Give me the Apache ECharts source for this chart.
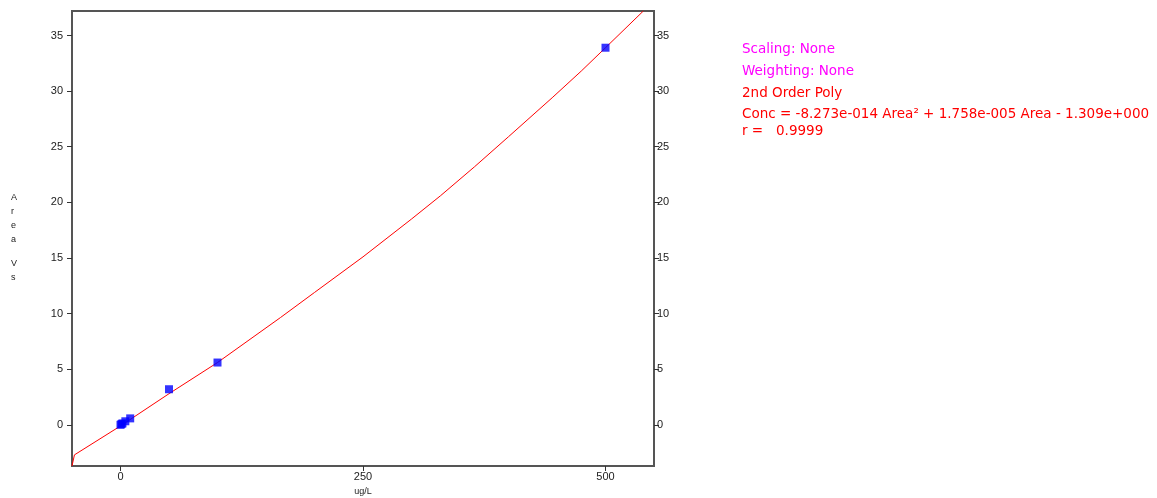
<!DOCTYPE html>
<html>
<head>
<meta charset="utf-8">
<script src="https://cdn.jsdelivr.net/npm/echarts@6/dist/echarts.min.js"></script>
<style>html,body{margin:0;padding:0;background:#fff}#c{width:1157px;height:498px}</style>
</head>
<body>
<div id="c"></div>
<script>
// Calibration points (ug/L, Area Vs)
const pointX = [0, 1, 2, 5, 10, 50, 100, 500];
const pointY = [0, 0.07, 0.13, 0.32, 0.58, 3.2, 5.6, 33.9];
// Fitted curve
const curveX = [-50, -47.5, 0, 50, 100, 165, 200, 250, 300, 330, 365, 400, 445, 475, 500, 539];
const curveY = [-3.7, -2.7, -0.1, 2.8, 5.6, 9.65, 11.9, 15.1, 18.5, 20.6, 23.2, 25.9, 29.4, 31.8, 33.9, 37.2];
const xTicks = [0, 250, 500];
const yTicks = [0, 5, 10, 15, 20, 25, 30, 35];
const infoLines = [
  {text: 'Scaling: None', color: '#FF00FF'},
  {text: 'Weighting: None', color: '#FF00FF'},
  {text: '2nd Order Poly', color: '#FF0000'},
  {text: 'Conc = -8.273e-014 Area² + 1.758e-005 Area - 1.309e+000', color: '#FF0000'},
  {text: 'r =   0.9999', color: '#FF0000'}
];
const infoY = [48, 70, 92, 113, 130];
const yName = ['A','r','e','a','','V','s'];

const chart = echarts.init(document.getElementById('c'));
const font = 'Arial, "Liberation Sans", sans-serif';
const infoFont = '"DejaVu Sans", Verdana, sans-serif';
const tickStyle = {show: true, inside: false, length: 5, lineStyle: {color: '#333', width: 1}};
const yAxisBase = {
  type: 'value', min: -3.7, max: 37.2,
  splitLine: {show: false},
  axisLine: {show: false, onZero: false}
};
const graphics = infoLines.map((l, i) => ({
  type: 'text', left: 742, top: infoY[i] - 6,
  style: {text: l.text, fill: l.color, font: '13.5px ' + infoFont}
}));
yName.forEach((ch, i) => {
  graphics.push({type: 'text', left: 11, top: 193 + i * 14 + (i > 4 ? -4 : 0),
    style: {text: ch, fill: '#222', font: '9px ' + font}});
});
chart.setOption({
  animation: false,
  grid: {left: 72, right: 1157 - 654, top: 11, bottom: 32, outerBoundsMode: 'none', containLabel: false,
    show: true, borderColor: '#555', borderWidth: 2, backgroundColor: '#fff'},
  graphic: graphics,
  xAxis: {
    type: 'value', min: -50, max: 550,
    name: 'ug/L', nameLocation: 'middle', nameGap: 19,
    nameTextStyle: {fontSize: 9, color: '#222', fontFamily: font},
    splitLine: {show: false}, axisLine: {show: false, onZero: false},
    axisTick: Object.assign({customValues: xTicks}, tickStyle),
    axisLabel: {customValues: xTicks, fontSize: 11, color: '#222', fontFamily: font, margin: 5}
  },
  yAxis: [
    Object.assign({position: 'left',
      axisTick: Object.assign({customValues: yTicks}, tickStyle),
      axisLabel: {customValues: yTicks, fontSize: 11, color: '#222', fontFamily: font, margin: 9}}, yAxisBase),
    Object.assign({position: 'right',
      axisTick: Object.assign({customValues: yTicks}, tickStyle),
      axisLabel: {customValues: yTicks, fontSize: 11, color: '#222', fontFamily: font, margin: 3}}, yAxisBase)
  ],
  series: [
    {type: 'line', data: curveX.map((x, i) => [x, curveY[i]]), showSymbol: false,
      lineStyle: {color: '#FF0000', width: 1}, clip: true, z: 2},
    {type: 'scatter', data: pointX.map((x, i) => [x, pointY[i]]), symbol: 'rect', symbolSize: 8,
      itemStyle: {color: '#0000FF'}, z: 3}
  ]
});
</script>
</body>
</html>
